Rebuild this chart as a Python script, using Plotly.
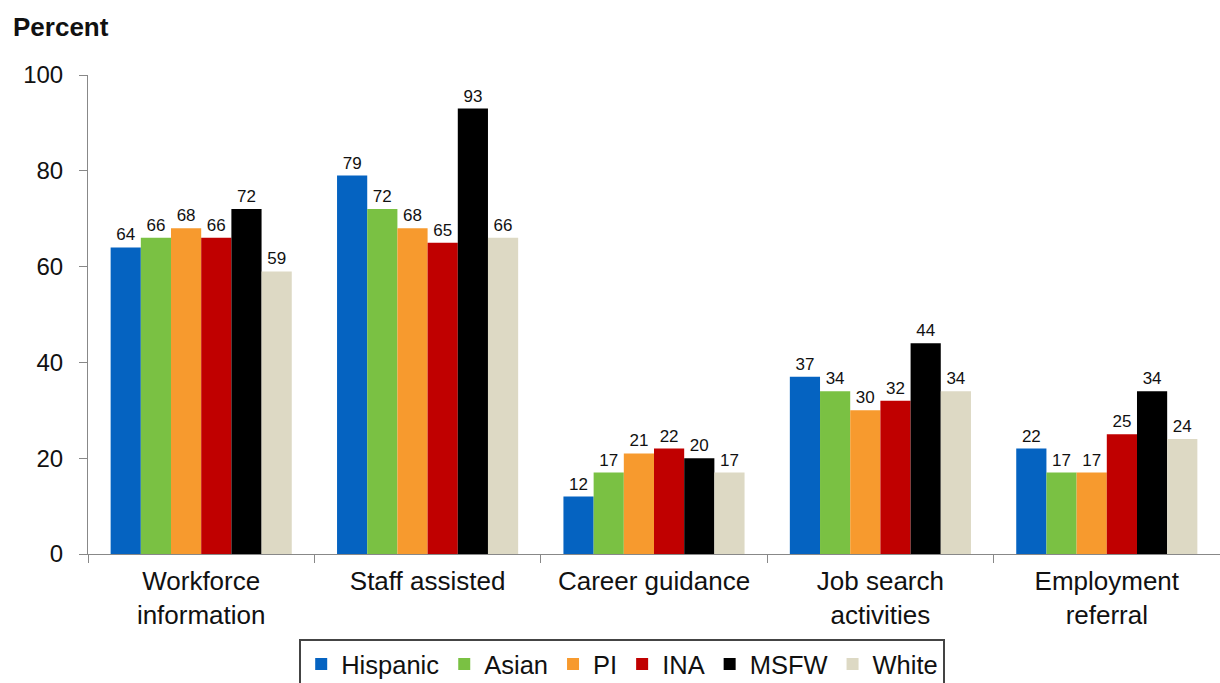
import plotly.graph_objects as go

categories = ["Workforce<br>information", "Staff assisted", "Career guidance",
              "Job search<br>activities", "Employment<br>referral"]
groups = ["Hispanic", "Asian", "PI", "INA", "MSFW", "White"]
hispanic = [64, 79, 12, 37, 22]
asian = [66, 72, 17, 34, 17]
pi = [68, 68, 21, 30, 17]
ina = [66, 65, 22, 32, 25]
msfw = [72, 93, 20, 44, 34]
white = [59, 66, 17, 34, 24]
y_ticks = [0, 20, 40, 60, 80, 100]

series = [hispanic, asian, pi, ina, msfw, white]
colors = ["#0563C1", "#7AC143", "#F79A2E", "#C00000", "#000000", "#DDD9C4"]

fig = go.Figure()
for name, vals, col in zip(groups, series, colors):
    fig.add_trace(go.Bar(
        x=categories, y=vals, name=name,
        marker=dict(color=col, line=dict(width=0)),
        text=[str(v) for v in vals], textposition="outside",
        textfont=dict(size=17, color="#111111", family="Liberation Sans, Arial, sans-serif"),
        cliponaxis=False,
    ))

fig.update_layout(
    width=1220, height=683,
    barmode="group", bargap=0.2, bargroupgap=0,
    plot_bgcolor="white", paper_bgcolor="white",
    margin=dict(l=88, r=0, t=75, b=129),
    font=dict(family="Liberation Sans, Arial, sans-serif", color="#111111"),
    legend=dict(
        orientation="h", xref="container", yref="container",
        x=0.51, xanchor="center", y=44/683, yanchor="top",
        font=dict(size=25.5), bordercolor="#444444", borderwidth=2,
        itemwidth=30, traceorder="normal",
    ),
    annotations=[dict(
        text="<b>Percent</b>", xref="paper", yref="paper",
        x=-88/1132 + 11/1132, y=1 + 48/479, xanchor="left", yanchor="middle",
        showarrow=False, font=dict(size=26, color="#111111"),
    )],
)
fig.update_yaxes(
    range=[0, 100], tickvals=y_ticks, showgrid=False, zeroline=False,
    showline=True, linecolor="#888888", linewidth=1,
    ticks="outside", ticklen=8, tickcolor="#888888",
    tickfont=dict(size=24, color="#111111"), ticklabelstandoff=11,
)
fig.update_xaxes(
    showgrid=False, showline=True, linecolor="#888888", linewidth=1,
    ticks="outside", ticklen=8, tickcolor="#888888", tickson="boundaries",
    tickfont=dict(size=26, color="#111111"), ticklabelstandoff=4,
)

fig.write_html("out.html")
